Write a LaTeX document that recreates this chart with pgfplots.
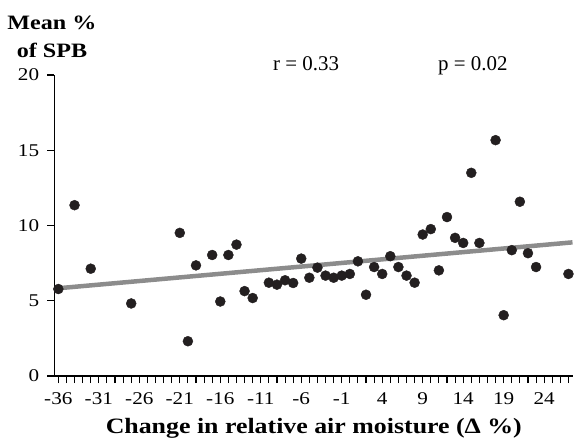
\documentclass[border=0pt]{standalone}
\usepackage{fontspec}
\setmainfont{Liberation Serif}[FakeStretch=1.18]
\newfontfamily\plainfont{Liberation Serif}
\usepackage{pgfplots}
\pgfplotsset{compat=1.18}

\definecolor{dot}{RGB}{35,31,32}
\definecolor{fitline}{RGB}{140,140,140}

\pgfplotstableread{
x y
-36 5.78
-34 11.35
-32 7.13
-27 4.82
-21 9.51
-20 2.31
-19 7.35
-17 8.04
-16 4.95
-15 8.04
-14 8.73
-13 5.64
-12 5.18
-10 6.20
-9 6.07
-8 6.36
-7 6.18
-6 7.80
-5 6.53
-4 7.20
-3 6.67
-2 6.53
-1 6.67
0 6.78
1 7.62
2 5.40
3 7.24
4 6.78
5 7.96
6 7.24
7 6.67
8 6.20
9 9.40
10 9.76
11 7.02
12 10.56
13 9.18
14 8.84
15 13.50
16 8.84
18 15.67
19 4.04
20 8.36
21 11.58
22 8.16
23 7.24
27 6.78
}\spbdata

\begin{document}
\begin{tikzpicture}
\useasboundingbox (-54.3bp,-62bp) rectangle (521.7bp,376bp);
\begin{axis}[
    at={(0,0)}, anchor=south west,
    scale only axis,
    width=519bp, height=301bp,
    xmin=-36.5, xmax=27.6,
    ymin=0, ymax=20,
    axis x line*=bottom,
    axis y line*=left,
    axis line style={-, line width=1.3bp, black},
    xtick={-36,-31,...,24},
    minor xtick={-36,...,27},
    ytick={0,5,...,20},
    tick align=outside,
    major tick length=7bp,
    minor tick length=7bp,
    every tick/.style={black, line width=1.1bp},
    /pgf/number format/assume math mode=true,
    tick label style={font=\fontsize{18}{21}\selectfont},
    yticklabel style={anchor=east, inner sep=0pt, xshift=-8bp},
    xticklabel style={anchor=north, inner sep=0pt, yshift=-9bp},
    clip=false,
]
\addplot[fitline, line width=4.5bp] coordinates {(-36,5.83) (27.5,8.88)};
\addplot[only marks, mark=*, mark size=5bp, mark options={fill=dot, draw=dot}] table[x=x, y=y] {\spbdata};
\node[anchor=base, font=\plainfont\fontsize{21}{24}\selectfont] at (axis cs:-5.4,20.33) {r = 0.33};
\node[anchor=base, font=\plainfont\fontsize{21}{24}\selectfont] at (axis cs:15.2,20.33) {p = 0.02};
\end{axis}
\node[anchor=base, font=\bfseries\fontsize{20.5}{24}\selectfont] at (-2.3bp,346bp) {Mean \%};
\node[anchor=base, font=\bfseries\fontsize{20.5}{24}\selectfont] at (-2.3bp,318.7bp) {of SPB};
\node[anchor=base, font=\bfseries\fontsize{22}{26}\selectfont] at (259.5bp,-57bp) {Change in relative air moisture (Δ \%)};
\end{tikzpicture}
\end{document}
